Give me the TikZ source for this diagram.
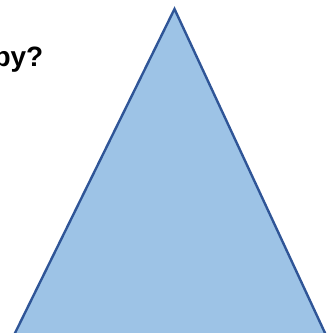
\documentclass[tikz,border=0pt]{standalone}
\usepackage{fontspec}
\setmainfont{Liberation Sans}
\definecolor{trifill}{HTML}{9DC3E6}
\definecolor{triline}{HTML}{2F5597}
\tikzset{
  lbl/.style={font=\bfseries\fontsize{28}{32}\selectfont, text=black, inner sep=0pt, anchor=base east},
  tri/.style={fill=trifill, draw=triline, line width=2.4pt, line join=miter}
}
\begin{document}
\begin{tikzpicture}[x=1pt,y=1pt]
\useasboundingbox (0,0) rectangle (333,333);
\clip (0,0) rectangle (333,333);
\coordinate (apex) at (174.5,324);
\coordinate (bl) at (5.2,-20);
\coordinate (br) at (334.3,-20);
\draw[tri] (bl) -- (apex) -- (br) -- cycle;
\node[lbl] (q) at (43.5,266) {by?};
\end{tikzpicture}
\end{document}
